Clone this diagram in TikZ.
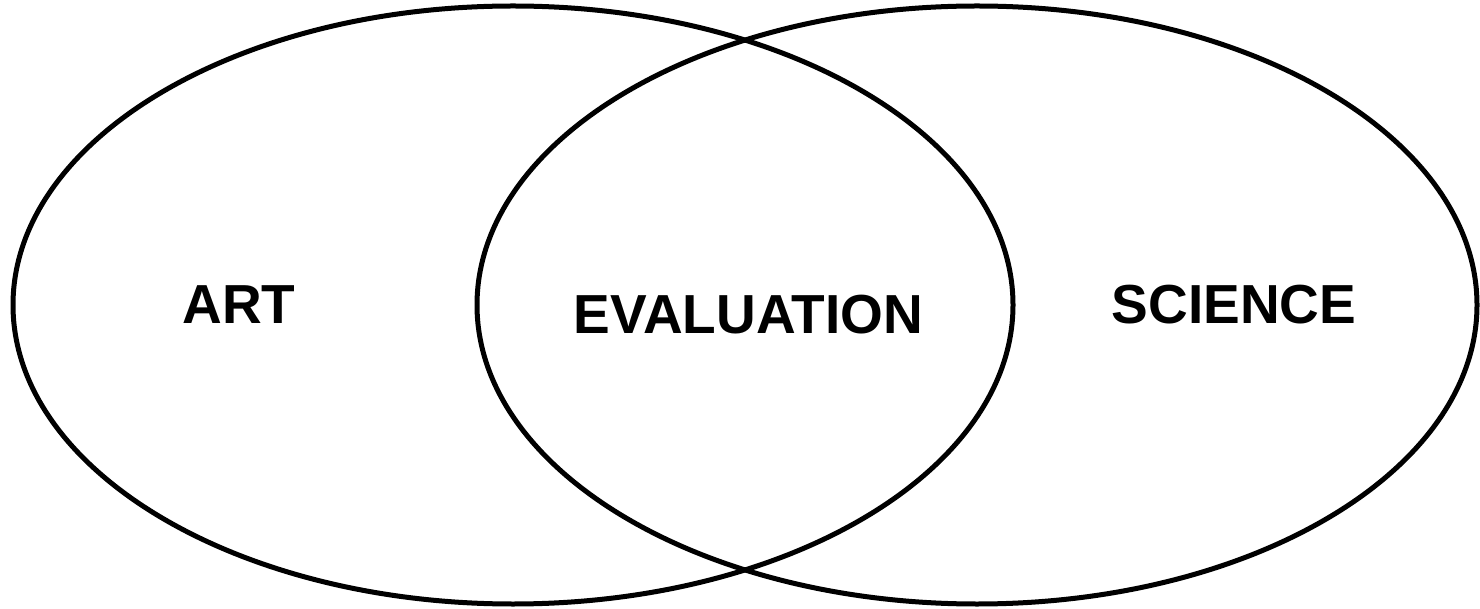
\documentclass[tikz,border=0pt]{standalone}
\usepackage{fontspec}
\setmainfont{Liberation Sans}
\usetikzlibrary{shapes.geometric, positioning}
\tikzset{
  %% Set outline
  setoval/.style={
    ellipse, draw=black, line width=5pt,
    minimum width=1000pt, minimum height=598pt,
    inner sep=0pt
  },
  %% Set label
  setlabel/.style={
    font=\fontsize{55}{60}\selectfont\bfseries,
    inner sep=0pt
  },
}
\begin{document}
\begin{tikzpicture}[x=1pt, y=-1pt]
  \useasboundingbox (0,0) rectangle (1480,609);

  \node[setoval] (artset) at (513,305) {};
  \node[setoval] (sciset) at (977,305) {};

  \node[setlabel] (art)  at (239,305)   {ART};
  \node[setlabel] (eval) at (748.5,315) {EVALUATION};
  \node[setlabel] (sci)  at (1234,305)  {SCIENCE};

\end{tikzpicture}
\end{document}
